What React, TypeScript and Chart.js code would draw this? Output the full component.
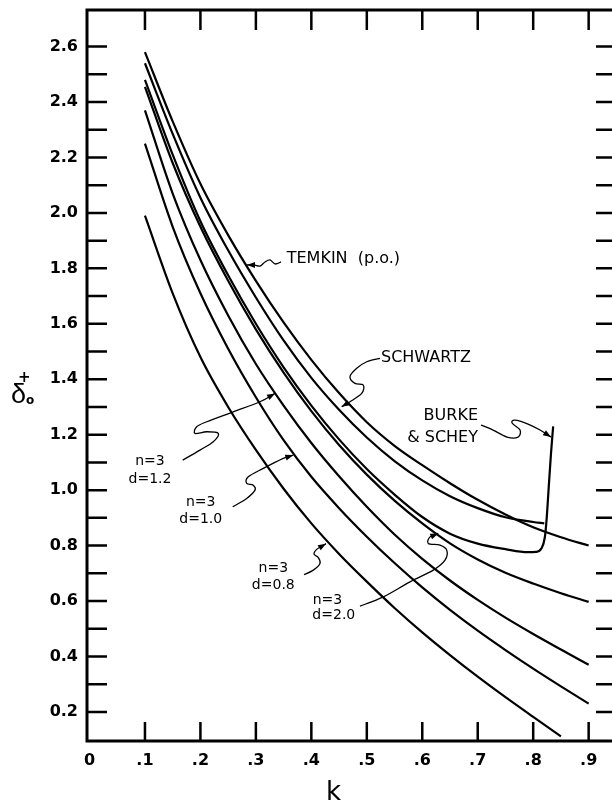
import { useEffect, useRef } from 'react';
import { Chart, registerables } from 'chart.js';

Chart.register(...registerables);

// ---------- data ----------
const K_MAIN = [0.1, 0.15, 0.2, 0.25, 0.3, 0.35, 0.4, 0.45, 0.5, 0.55, 0.6, 0.65, 0.7, 0.75, 0.8, 0.85, 0.9];
const TEMKIN = [2.58, 2.33, 2.105, 1.92, 1.755, 1.605, 1.47, 1.35, 1.245, 1.16, 1.09, 1.025, 0.965, 0.912, 0.866, 0.83, 0.8];

const K_SCHWARTZ = [0.1, 0.15, 0.2, 0.25, 0.3, 0.35, 0.4, 0.45, 0.5, 0.55, 0.6, 0.65, 0.7, 0.75, 0.8, 0.82];
const SCHWARTZ = [2.54, 2.285, 2.055, 1.865, 1.695, 1.54, 1.405, 1.29, 1.19, 1.105, 1.035, 0.978, 0.935, 0.902, 0.885, 0.88];

const K_BURKE = [0.1, 0.15, 0.2, 0.25, 0.3, 0.35, 0.4, 0.45, 0.5, 0.55, 0.6, 0.65, 0.7, 0.75, 0.79, 0.805, 0.815, 0.821, 0.824, 0.828, 0.832, 0.836];
const BURKE = [2.48, 2.21, 1.97, 1.775, 1.6, 1.443, 1.305, 1.183, 1.076, 0.984, 0.903, 0.843, 0.807, 0.787, 0.776, 0.777, 0.79, 0.83, 0.89, 1.01, 1.13, 1.23];

const N3_D20 = [2.455, 2.18, 1.95, 1.755, 1.58, 1.424, 1.285, 1.163, 1.056, 0.962, 0.88, 0.808, 0.75, 0.702, 0.663, 0.628, 0.597];
const N3_D12 = [2.37, 2.07, 1.83, 1.63, 1.455, 1.305, 1.17, 1.05, 0.94, 0.84, 0.752, 0.674, 0.604, 0.54, 0.481, 0.425, 0.37];
const N3_D10 = [2.25, 1.95, 1.71, 1.51, 1.335, 1.18, 1.048, 0.935, 0.832, 0.737, 0.649, 0.568, 0.493, 0.423, 0.356, 0.292, 0.23];
const K_D08 = [0.1, 0.15, 0.2, 0.25, 0.3, 0.35, 0.4, 0.45, 0.5, 0.55, 0.6, 0.65, 0.7, 0.75, 0.8, 0.85];
const N3_D08 = [1.99, 1.71, 1.48, 1.3, 1.145, 1.005, 0.88, 0.77, 0.67, 0.575, 0.487, 0.405, 0.327, 0.253, 0.182, 0.112];

const X_TICKS = [0, 0.1, 0.2, 0.3, 0.4, 0.5, 0.6, 0.7, 0.8, 0.9];
const X_TICK_LABELS = ['0', '.1', '.2', '.3', '.4', '.5', '.6', '.7', '.8', '.9'];
const Y_TICKS = [0.2, 0.4, 0.6, 0.8, 1.0, 1.2, 1.4, 1.6, 1.8, 2.0, 2.2, 2.4, 2.6];
const Y_TICK_LABELS = ['0.2', '0.4', '0.6', '0.8', '1.0', '1.2', '1.4', '1.6', '1.8', '2.0', '2.2', '2.4', '2.6'];
const Y_MINOR = [0.3, 0.5, 0.7, 0.9, 1.1, 1.3, 1.5, 1.7, 1.9, 2.1, 2.3, 2.5];

// ---------- annotations (data coordinates) ----------
type Lab = { text: string; k: number; v: number; align: CanvasTextAlign; size: number };
const LABELS: Lab[] = [
  { text: 'TEMKIN  (p.o.)', k: 0.3556, v: 1.836, align: 'left', size: 16 },
  { text: 'SCHWARTZ', k: 0.5256, v: 1.4754, align: 'left', size: 16 },
  { text: 'BURKE', k: 0.7005, v: 1.2671, align: 'right', size: 16 },
  { text: '& SCHEY', k: 0.7005, v: 1.1888, align: 'right', size: 16 },
  { text: 'n=3', k: 0.1091, v: 1.1022, align: 'center', size: 14 },
  { text: 'd=1.2', k: 0.1091, v: 1.0387, align: 'center', size: 14 },
  { text: 'n=3', k: 0.2006, v: 0.9542, align: 'center', size: 14 },
  { text: 'd=1.0', k: 0.2006, v: 0.8954, align: 'center', size: 14 },
  { text: 'n=3', k: 0.3314, v: 0.7175, align: 'center', size: 14 },
  { text: 'd=0.8', k: 0.3314, v: 0.6572, align: 'center', size: 14 },
  { text: 'n=3', k: 0.4291, v: 0.6031, align: 'center', size: 14 },
  { text: 'd=2.0', k: 0.4405, v: 0.5488, align: 'center', size: 14 },
];

const SQUIGGLES: number[][][] = [
  [[0.3453, 1.823], [0.3345, 1.8158], [0.3255, 1.8302], [0.3165, 1.823], [0.3075, 1.8085], [0.2966, 1.8122], [0.284, 1.8122]],
  [[0.5238, 1.4754], [0.4998, 1.4631], [0.4818, 1.4393], [0.4697, 1.409], [0.4787, 1.3851], [0.4937, 1.379], [0.4908, 1.349], [0.4697, 1.3187], [0.4547, 1.3007]],
  [[0.7059, 1.2347], [0.7276, 1.2167], [0.7528, 1.1914], [0.7727, 1.1914], [0.7763, 1.2167], [0.7619, 1.2419], [0.7673, 1.2527], [0.7907, 1.2383], [0.8124, 1.2167], [0.8322, 1.1914]],
  [[0.1681, 1.1083], [0.1992, 1.1444], [0.2232, 1.1744], [0.2322, 1.2047], [0.2113, 1.2105], [0.1902, 1.2047], [0.1933, 1.2285], [0.2113, 1.2466], [0.2593, 1.2826], [0.3074, 1.3187], [0.3345, 1.349]],
  [[0.2582, 0.9398], [0.2834, 0.9701], [0.2984, 1.0], [0.2953, 1.018], [0.2834, 1.0242], [0.2863, 1.0481], [0.3134, 1.0784], [0.3494, 1.1145], [0.3675, 1.1264]],
  [[0.3868, 0.6951], [0.4035, 0.7114], [0.4156, 0.7356], [0.4126, 0.7565], [0.4048, 0.7691], [0.4102, 0.7872], [0.4264, 0.807]],
  [[0.4877, 0.5815], [0.5298, 0.615], [0.5779, 0.6691], [0.6199, 0.7114], [0.641, 0.7474], [0.6441, 0.7835], [0.632, 0.8016], [0.6109, 0.8077], [0.614, 0.8315], [0.6289, 0.8438]],
];

const FONT = 'DejaVu Sans';

function toPts(xs: number[], ys: number[]) {
  return xs.map((x, i) => ({ x, y: ys[i] }));
}

function line(xs: number[], ys: number[]) {
  return {
    data: toPts(xs, ys),
    showLine: true,
    borderColor: '#000',
    borderWidth: 2.2,
    pointRadius: 0,
    cubicInterpolationMode: 'monotone' as const,
    fill: false,
  };
}

const decoPlugin = {
  id: 'deco',
  afterDraw(chart: any) {
    const { ctx, chartArea: a, scales } = chart;
    const x = scales.x;
    const y = scales.y;
    ctx.save();
    ctx.strokeStyle = '#000';
    ctx.fillStyle = '#000';
    // frame
    ctx.lineWidth = 3;
    ctx.strokeRect(a.left, a.top, a.right - a.left, a.bottom - a.top);
    // inward ticks
    ctx.lineWidth = 2.5;
    ctx.beginPath();
    for (const v of X_TICKS.slice(1)) {
      const px = x.getPixelForValue(v);
      ctx.moveTo(px, a.bottom);
      ctx.lineTo(px, a.bottom - 19);
      ctx.moveTo(px, a.top);
      ctx.lineTo(px, a.top + 20);
    }
    for (const v of [...Y_TICKS, ...Y_MINOR]) {
      const py = y.getPixelForValue(v);
      ctx.moveTo(a.left, py);
      ctx.lineTo(a.left + 20, py);
      ctx.moveTo(a.right, py);
      ctx.lineTo(a.right - 18, py);
    }
    ctx.stroke();

    // squiggly pointers
    ctx.lineWidth = 1.3;
    for (const sq of SQUIGGLES) {
      const pts = sq.map(([k, v]) => ({ x: x.getPixelForValue(k), y: y.getPixelForValue(v) }));
      ctx.beginPath();
      ctx.moveTo(pts[0].x, pts[0].y);
      for (let i = 0; i < pts.length - 1; i++) {
        const p0 = pts[i - 1] || pts[i];
        const p1 = pts[i];
        const p2 = pts[i + 1];
        const p3 = pts[i + 2] || p2;
        ctx.bezierCurveTo(
          p1.x + (p2.x - p0.x) / 6, p1.y + (p2.y - p0.y) / 6,
          p2.x - (p3.x - p1.x) / 6, p2.y - (p3.y - p1.y) / 6,
          p2.x, p2.y,
        );
      }
      ctx.stroke();
      const tip = pts[pts.length - 1];
      const prev = pts[pts.length - 2];
      const ang = Math.atan2(tip.y - prev.y, tip.x - prev.x);
      const L = 8, W = 3;
      ctx.beginPath();
      ctx.moveTo(tip.x, tip.y);
      ctx.lineTo(tip.x - L * Math.cos(ang) + W * Math.sin(ang), tip.y - L * Math.sin(ang) - W * Math.cos(ang));
      ctx.lineTo(tip.x - L * Math.cos(ang) - W * Math.sin(ang), tip.y - L * Math.sin(ang) + W * Math.cos(ang));
      ctx.closePath();
      ctx.fill();
    }

    // text labels
    ctx.textBaseline = 'middle';
    for (const l of LABELS) {
      ctx.font = `${l.size}px "${FONT}"`;
      ctx.textAlign = l.align;
      ctx.fillText(l.text, x.getPixelForValue(l.k), y.getPixelForValue(l.v));
    }

    // axis titles
    ctx.textAlign = 'center';
    ctx.textBaseline = 'alphabetic';
    ctx.font = `26px "${FONT}"`;
    ctx.fillText('k', x.getPixelForValue(0.44), 800);

    const base = y.getPixelForValue(1.314);
    ctx.textAlign = 'left';
    ctx.font = `27px "Liberation Sans"`;
    ctx.fillText('δ', 11, base);
    ctx.font = `bold 15px "${FONT}"`;
    ctx.fillText('+', 18, base - 21);
    ctx.font = `bold 12px "${FONT}"`;
    ctx.fillText('o', 26, base + 1);
    ctx.restore();
  },
};

export default function App() {
  const ref = useRef<HTMLCanvasElement>(null);
  useEffect(() => {
    if (!ref.current) return;
    const chart = new Chart(ref.current, {
      type: 'scatter',
      data: {
        datasets: [
          line(K_MAIN, TEMKIN),
          line(K_SCHWARTZ, SCHWARTZ),
          line(K_BURKE, BURKE),
          line(K_MAIN, N3_D20),
          line(K_MAIN, N3_D12),
          line(K_MAIN, N3_D10),
          line(K_D08, N3_D08),
        ],
      },
      options: {
        responsive: false,
        maintainAspectRatio: false,
        devicePixelRatio: 1,
        animation: false,
        layout: { padding: { top: 10, right: 6, left: 0, bottom: 0 } },
        plugins: { legend: { display: false }, tooltip: { enabled: false } },
        scales: {
          x: {
            type: 'linear',
            min: -0.0045,
            max: 0.9457,
            grid: { display: false, drawTicks: false },
            border: { display: false },
            afterFit: (s: any) => { s.height = 62; s.paddingLeft = 0; s.paddingRight = 0; },
            afterBuildTicks: (s: any) => { s.ticks = X_TICKS.map((v) => ({ value: v })); },
            ticks: {
              autoSkip: false,
              maxRotation: 0,
              padding: 10,
              color: '#000',
              font: { family: FONT, size: 16, weight: 'bold' },
              callback: (_v: any, i: number) => X_TICK_LABELS[i],
            },
          },
          y: {
            type: 'linear',
            min: 0.095,
            max: 2.732,
            grid: { display: false, drawTicks: false },
            border: { display: false },
            afterFit: (s: any) => { s.width = 87; s.paddingTop = 0; s.paddingBottom = 0; },
            afterBuildTicks: (s: any) => { s.ticks = Y_TICKS.map((v) => ({ value: v })); },
            ticks: {
              autoSkip: false,
              padding: 9,
              color: '#000',
              font: { family: FONT, size: 16, weight: 'bold' },
              callback: (_v: any, i: number) => Y_TICK_LABELS[i],
            },
          },
        },
      },
      plugins: [decoPlugin],
    });
    return () => chart.destroy();
  }, []);
  return (
    <div style={{ position: 'absolute', left: 0, top: 0, width: 612, height: 803, overflow: 'hidden', background: '#fff' }}>
      <canvas ref={ref} width={620} height={803} style={{ display: 'block' }} />
    </div>
  );
}
